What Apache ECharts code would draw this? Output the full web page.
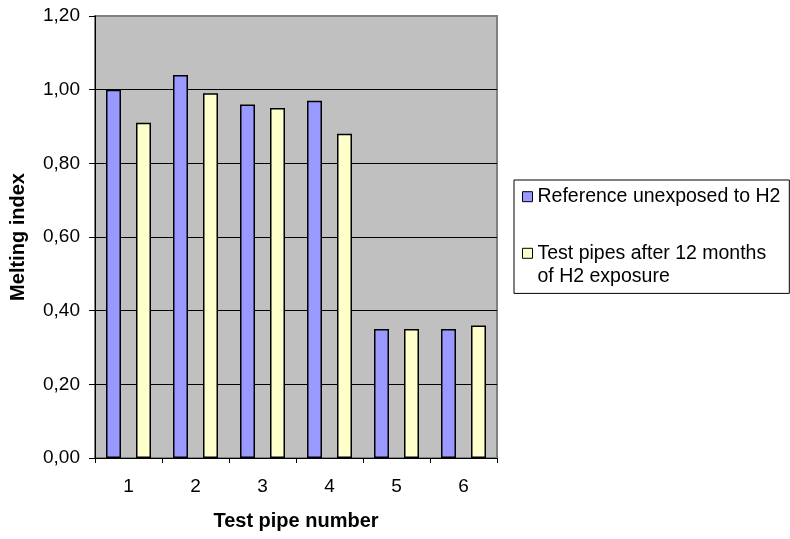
<!DOCTYPE html>
<html>
<head>
<meta charset="utf-8">
<script src="https://cdn.jsdelivr.net/npm/echarts@6/dist/echarts.min.js"></script>
<style>html,body{margin:0;padding:0;background:#fff;}#c{width:790px;height:539px;}</style>
</head>
<body>
<div id="c"></div>
<script>
const categories = ['1', '2', '3', '4', '5', '6'];
const referenceValues = [1.00, 1.04, 0.96, 0.97, 0.35, 0.35];
const testValues = [0.91, 0.99, 0.95, 0.88, 0.35, 0.36];
const yTicks = { min: 0, max: 1.2, interval: 0.2 };
const refName = 'Reference unexposed to H2';
const testName = 'Test pipes after 12 months of H2 exposure';

const FONT = '"Liberation Sans", Arial, sans-serif';
const chart = echarts.init(document.getElementById('c'), null, { renderer: 'canvas' });
chart.setOption({
  animation: false,
  backgroundColor: '#ffffff',
  textStyle: { fontFamily: FONT },
  grid: {
    left: 95, right: 293, top: 16, bottom: 81,
    show: true, backgroundColor: '#C0C0C0', borderColor: '#808080', borderWidth: 2
  },
  legend: {
    orient: 'vertical',
    left: 514, top: 180,
    padding: [5, 9, 5, 8],
    itemGap: 9.8,
    itemWidth: 10, itemHeight: 10,
    icon: 'rect',
    backgroundColor: '#ffffff',
    borderColor: '#000000', borderWidth: 1,
    textStyle: { fontFamily: FONT, fontSize: 19.5, color: '#000', lineHeight: 23.4 },
    itemStyle: { borderColor: '#000', borderWidth: 1 },
    data: [ { name: refName }, { name: testName } ],
    formatter: function (n) { return n === testName ? '\u00a0\nTest pipes after 12 months\nof H2 exposure' : n; }
  },
  xAxis: {
    type: 'category',
    data: categories,
    name: 'Test pipe number',
    nameLocation: 'middle',
    nameGap: 53,
    nameTextStyle: { fontFamily: FONT, fontSize: 20, fontWeight: 'bold', color: '#000' },
    axisLine: { lineStyle: { color: '#000', width: 1 } },
    axisTick: { show: true, length: 5, lineStyle: { color: '#000' } },
    axisLabel: { fontFamily: FONT, fontSize: 19, color: '#000', margin: 19 },
    splitLine: { show: false }
  },
  yAxis: {
    type: 'value',
    min: yTicks.min, max: yTicks.max, interval: yTicks.interval,
    name: 'Melting index',
    nameLocation: 'middle',
    nameGap: 67,
    nameRotate: 90,
    nameTextStyle: { fontFamily: FONT, fontSize: 20, fontWeight: 'bold', color: '#000' },
    axisLine: { show: true, lineStyle: { color: '#000', width: 1 } },
    axisTick: { show: true, length: 6, lineStyle: { color: '#000' } },
    axisLabel: {
      fontFamily: FONT, fontSize: 19, color: '#000', margin: 15,
      formatter: function (v) { return v.toFixed(2).replace('.', ','); }
    },
    splitLine: { show: true, lineStyle: { color: ['#000', '#000', '#000', '#000', '#000', '#000', '#808080'], width: 1 } }
  },
  series: [
    {
      name: refName, type: 'bar', data: referenceValues,
      barWidth: 15, barGap: '100%',
      itemStyle: { color: '#9999FF', borderColor: '#000', borderWidth: 1.5 }
    },
    {
      name: testName, type: 'bar', data: testValues,
      barWidth: 15, barGap: '100%',
      itemStyle: { color: '#FFFFCC', borderColor: '#000', borderWidth: 1.5 }
    }
  ]
});
</script>
</body>
</html>
